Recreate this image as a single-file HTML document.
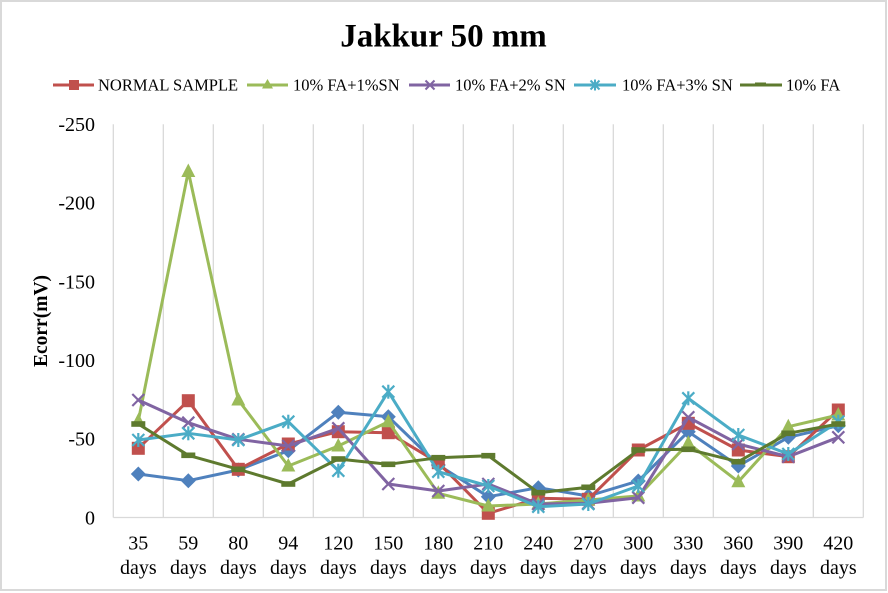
<!DOCTYPE html>
<html><head><meta charset="utf-8">
<style>
html,body{margin:0;padding:0;background:#fff;}
svg{display:block;}
text{font-family:"Liberation Serif","Times New Roman",serif;fill:#000;}
</style></head>
<body>
<svg width="888" height="593" viewBox="0 0 888 593" xmlns="http://www.w3.org/2000/svg">
<defs>
  <rect id="sq" x="-6.5" y="-6.5" width="13" height="13" fill="#C0504D"/>
  <polygon id="tri" points="0,-8 7,5.5 -7,5.5" fill="#9BBB59"/>
  <polygon id="dia" points="0,-7.5 7.5,0 0,7.5 -7.5,0" fill="#4F81BD"/>
  <g id="xm" stroke="#8064A2" stroke-width="2.2"><line x1="-6" y1="-6" x2="6" y2="6"/><line x1="-6" y1="6" x2="6" y2="-6"/></g>
  <g id="ast" stroke="#4BACC6" stroke-width="2.2"><line x1="-6" y1="-6" x2="6" y2="6"/><line x1="-6" y1="6" x2="6" y2="-6"/><line x1="0" y1="-7" x2="0" y2="7"/></g>
  <rect id="dash" x="-7" y="-2.8" width="14" height="5.6" fill="#5E7A2E"/>
</defs>
<rect x="0" y="0" width="888" height="593" fill="#fff"/>
<rect x="1" y="1" width="885" height="589" fill="none" stroke="#d9d9d9" stroke-width="2"/>

<text x="443.5" y="46.7" font-size="33" font-weight="bold" text-anchor="middle">Jakkur 50 mm</text>

<!-- legend -->
<g font-size="16.5">
  <line x1="53" y1="85" x2="94" y2="85" stroke="#C0504D" stroke-width="3"/>
  <rect x="69" y="80" width="10" height="10" fill="#C0504D"/>
  <text x="98" y="90.7">NORMAL SAMPLE</text>
  <line x1="247" y1="85" x2="288" y2="85" stroke="#9BBB59" stroke-width="3"/>
  <polygon points="267.5,79 273,88.5 262,88.5" fill="#9BBB59"/>
  <text x="293" y="90.7">10% FA+1%SN</text>
  <line x1="409" y1="85" x2="450" y2="85" stroke="#8064A2" stroke-width="3"/>
  <g stroke="#8064A2" stroke-width="2"><line x1="425.5" y1="80.5" x2="434.5" y2="89.5"/><line x1="425.5" y1="89.5" x2="434.5" y2="80.5"/></g>
  <text x="455" y="90.7">10% FA+2% SN</text>
  <line x1="574" y1="85" x2="616" y2="85" stroke="#4BACC6" stroke-width="3"/>
  <g stroke="#4BACC6" stroke-width="2"><line x1="590.5" y1="80.5" x2="599.5" y2="89.5"/><line x1="590.5" y1="89.5" x2="599.5" y2="80.5"/><line x1="595" y1="79.5" x2="595" y2="90.5"/></g>
  <text x="622" y="90.7">10% FA+3% SN</text>
  <line x1="740" y1="85" x2="782" y2="85" stroke="#5E7A2E" stroke-width="3"/>
  <rect x="755" y="82.5" width="11" height="4" fill="#5E7A2E"/>
  <text x="786" y="90.7">10% FA</text>
</g>

<!-- grid -->
<g stroke="#d9d9d9" stroke-width="1.3">
  <line x1="113.3" y1="124.3" x2="113.3" y2="517.5"/>
  <line x1="163.3" y1="124.3" x2="163.3" y2="517.5"/>
  <line x1="213.3" y1="124.3" x2="213.3" y2="517.5"/>
  <line x1="263.3" y1="124.3" x2="263.3" y2="517.5"/>
  <line x1="313.3" y1="124.3" x2="313.3" y2="517.5"/>
  <line x1="363.3" y1="124.3" x2="363.3" y2="517.5"/>
  <line x1="413.3" y1="124.3" x2="413.3" y2="517.5"/>
  <line x1="463.3" y1="124.3" x2="463.3" y2="517.5"/>
  <line x1="513.3" y1="124.3" x2="513.3" y2="517.5"/>
  <line x1="563.3" y1="124.3" x2="563.3" y2="517.5"/>
  <line x1="613.3" y1="124.3" x2="613.3" y2="517.5"/>
  <line x1="663.3" y1="124.3" x2="663.3" y2="517.5"/>
  <line x1="713.3" y1="124.3" x2="713.3" y2="517.5"/>
  <line x1="763.3" y1="124.3" x2="763.3" y2="517.5"/>
  <line x1="813.3" y1="124.3" x2="813.3" y2="517.5"/>
  <line x1="863.3" y1="124.3" x2="863.3" y2="517.5"/>
  <line x1="113.3" y1="517.5" x2="863.3" y2="517.5"/>
</g>

<!-- y ticks -->
<g font-size="20" text-anchor="end">
  <text x="95" y="131">-250</text>
  <text x="95" y="209.6">-200</text>
  <text x="95" y="288.3">-150</text>
  <text x="95" y="367">-100</text>
  <text x="95" y="445.6">-50</text>
  <text x="95" y="524.3">0</text>
</g>
<text transform="translate(47,321) rotate(-90)" font-size="19.5" font-weight="bold" text-anchor="middle">Ecorr(mV)</text>

<!-- x labels -->
<g font-size="20" text-anchor="middle">
  <text x="138.3" y="549.3">35</text><text x="138.3" y="574">days</text>
  <text x="188.3" y="549.3">59</text><text x="188.3" y="574">days</text>
  <text x="238.3" y="549.3">80</text><text x="238.3" y="574">days</text>
  <text x="288.3" y="549.3">94</text><text x="288.3" y="574">days</text>
  <text x="338.3" y="549.3">120</text><text x="338.3" y="574">days</text>
  <text x="388.3" y="549.3">150</text><text x="388.3" y="574">days</text>
  <text x="438.3" y="549.3">180</text><text x="438.3" y="574">days</text>
  <text x="488.3" y="549.3">210</text><text x="488.3" y="574">days</text>
  <text x="538.3" y="549.3">240</text><text x="538.3" y="574">days</text>
  <text x="588.3" y="549.3">270</text><text x="588.3" y="574">days</text>
  <text x="638.3" y="549.3">300</text><text x="638.3" y="574">days</text>
  <text x="688.3" y="549.3">330</text><text x="688.3" y="574">days</text>
  <text x="738.3" y="549.3">360</text><text x="738.3" y="574">days</text>
  <text x="788.3" y="549.3">390</text><text x="788.3" y="574">days</text>
  <text x="838.3" y="549.3">420</text><text x="838.3" y="574">days</text>
</g>

<!-- Blue series -->
<polyline fill="none" stroke="#4F81BD" stroke-width="3" stroke-linejoin="round"
 points="138.3,474 188.3,480.7 238.3,470 288.3,450.7 338.3,412.3 388.3,416.7 438.3,465 488.3,496.7 538.3,487.7 588.3,496 638.3,481 688.3,431.7 738.3,466 788.3,437.3 838.3,425.7"/>
<g>
 <use href="#dia" x="138.3" y="474"/><use href="#dia" x="188.3" y="480.7"/><use href="#dia" x="238.3" y="470"/><use href="#dia" x="288.3" y="450.7"/><use href="#dia" x="338.3" y="412.3"/><use href="#dia" x="388.3" y="416.7"/><use href="#dia" x="438.3" y="465"/><use href="#dia" x="488.3" y="496.7"/><use href="#dia" x="538.3" y="487.7"/><use href="#dia" x="588.3" y="496"/><use href="#dia" x="638.3" y="481"/><use href="#dia" x="688.3" y="431.7"/><use href="#dia" x="738.3" y="466"/><use href="#dia" x="788.3" y="437.3"/><use href="#dia" x="838.3" y="425.7"/>
</g>

<!-- Red series -->
<polyline fill="none" stroke="#C0504D" stroke-width="3" stroke-linejoin="round"
 points="138.3,448.3 188.3,400.7 238.3,469.3 288.3,444 338.3,431.7 388.3,432.7 438.3,462.7 488.3,513.3 538.3,498.3 588.3,499.3 638.3,450 688.3,423.3 738.3,450 788.3,456.7 838.3,410"/>
<g>
 <use href="#sq" x="138.3" y="448.3"/><use href="#sq" x="188.3" y="400.7"/><use href="#sq" x="238.3" y="469.3"/><use href="#sq" x="288.3" y="444"/><use href="#sq" x="338.3" y="431.7"/><use href="#sq" x="388.3" y="432.7"/><use href="#sq" x="438.3" y="462.7"/><use href="#sq" x="488.3" y="513.3"/><use href="#sq" x="538.3" y="498.3"/><use href="#sq" x="588.3" y="499.3"/><use href="#sq" x="638.3" y="450"/><use href="#sq" x="688.3" y="423.3"/><use href="#sq" x="738.3" y="450"/><use href="#sq" x="788.3" y="456.7"/><use href="#sq" x="838.3" y="410"/>
</g>

<!-- Green series -->
<polyline fill="none" stroke="#9BBB59" stroke-width="3" stroke-linejoin="round"
 points="138.3,421 188.3,171.5 238.3,400 288.3,466 338.3,446 388.3,421.7 438.3,493.3 488.3,506 538.3,504 588.3,500 638.3,496 688.3,443.3 738.3,481.7 788.3,426.7 838.3,415"/>
<g>
 <use href="#tri" x="138.3" y="421"/><use href="#tri" x="188.3" y="171.5"/><use href="#tri" x="238.3" y="400"/><use href="#tri" x="288.3" y="466"/><use href="#tri" x="338.3" y="446"/><use href="#tri" x="388.3" y="421.7"/><use href="#tri" x="438.3" y="493.3"/><use href="#tri" x="488.3" y="506"/><use href="#tri" x="538.3" y="504"/><use href="#tri" x="588.3" y="500"/><use href="#tri" x="638.3" y="496"/><use href="#tri" x="688.3" y="443.3"/><use href="#tri" x="738.3" y="481.7"/><use href="#tri" x="788.3" y="426.7"/><use href="#tri" x="838.3" y="415"/>
</g>

<!-- Purple series -->
<polyline fill="none" stroke="#8064A2" stroke-width="3" stroke-linejoin="round"
 points="138.3,400 188.3,422.7 238.3,439.3 288.3,446 338.3,428.3 388.3,484 438.3,491 488.3,484 538.3,504 588.3,503.3 638.3,497.7 688.3,417.3 738.3,444 788.3,456.7 838.3,437.3"/>
<g>
 <use href="#xm" x="138.3" y="400"/><use href="#xm" x="188.3" y="422.7"/><use href="#xm" x="238.3" y="439.3"/><use href="#xm" x="288.3" y="446"/><use href="#xm" x="338.3" y="428.3"/><use href="#xm" x="388.3" y="484"/><use href="#xm" x="438.3" y="491"/><use href="#xm" x="488.3" y="484"/><use href="#xm" x="538.3" y="504"/><use href="#xm" x="588.3" y="503.3"/><use href="#xm" x="638.3" y="497.7"/><use href="#xm" x="688.3" y="417.3"/><use href="#xm" x="738.3" y="444"/><use href="#xm" x="788.3" y="456.7"/><use href="#xm" x="838.3" y="437.3"/>
</g>

<!-- Cyan series -->
<polyline fill="none" stroke="#4BACC6" stroke-width="3" stroke-linejoin="round"
 points="138.3,440 188.3,433.3 238.3,440 288.3,421.7 338.3,470.7 388.3,391.7 438.3,471.7 488.3,486 538.3,506.7 588.3,504 638.3,486 688.3,398.3 738.3,435 788.3,454 838.3,421.7"/>
<g>
 <use href="#ast" x="138.3" y="440"/><use href="#ast" x="188.3" y="433.3"/><use href="#ast" x="238.3" y="440"/><use href="#ast" x="288.3" y="421.7"/><use href="#ast" x="338.3" y="470.7"/><use href="#ast" x="388.3" y="391.7"/><use href="#ast" x="438.3" y="471.7"/><use href="#ast" x="488.3" y="486"/><use href="#ast" x="538.3" y="506.7"/><use href="#ast" x="588.3" y="504"/><use href="#ast" x="638.3" y="486"/><use href="#ast" x="688.3" y="398.3"/><use href="#ast" x="738.3" y="435"/><use href="#ast" x="788.3" y="454"/><use href="#ast" x="838.3" y="421.7"/>
</g>

<!-- Dark green series -->
<polyline fill="none" stroke="#5E7A2E" stroke-width="3" stroke-linejoin="round"
 points="138.3,424 188.3,455.3 238.3,469.3 288.3,484 338.3,459 388.3,464.3 438.3,457.7 488.3,455.7 538.3,492.7 588.3,487.3 638.3,450 688.3,449.3 738.3,461.7 788.3,433.3 838.3,424"/>
<g>
 <use href="#dash" x="138.3" y="424"/><use href="#dash" x="188.3" y="455.3"/><use href="#dash" x="238.3" y="469.3"/><use href="#dash" x="288.3" y="484"/><use href="#dash" x="338.3" y="459"/><use href="#dash" x="388.3" y="464.3"/><use href="#dash" x="438.3" y="457.7"/><use href="#dash" x="488.3" y="455.7"/><use href="#dash" x="538.3" y="492.7"/><use href="#dash" x="588.3" y="487.3"/><use href="#dash" x="638.3" y="450"/><use href="#dash" x="688.3" y="449.3"/><use href="#dash" x="738.3" y="461.7"/><use href="#dash" x="788.3" y="433.3"/><use href="#dash" x="838.3" y="424"/>
</g>
</svg>
</body></html>
